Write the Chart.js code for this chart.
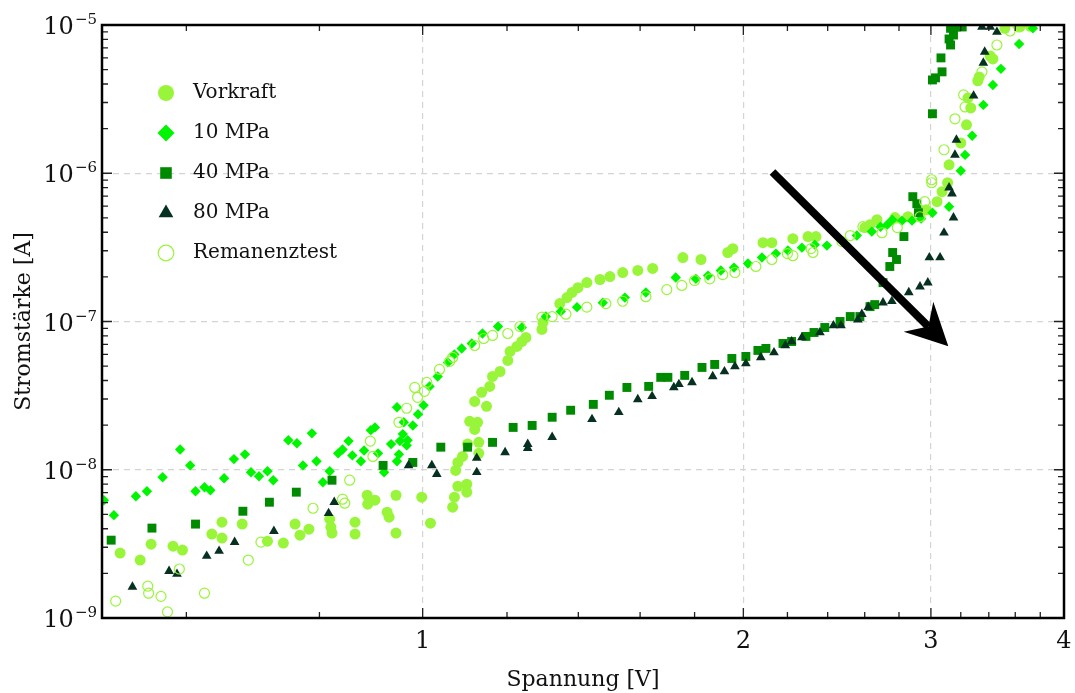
<!DOCTYPE html>
<html>
<head>
<meta charset="utf-8">
<script src="https://cdn.jsdelivr.net/npm/chart.js@4.4.1/dist/chart.umd.min.js"></script>
<style>
html, body { margin: 0; padding: 0; background: #fff; }
#wrap { width: 1075px; height: 693px; }
</style>
</head>
<body>
<div id="wrap"><canvas id="myChart" width="1075" height="693"></canvas></div>
<script>
// measured values: voltage [V] and current [A] per series
const vorkraftU = [0.520,0.543,0.556,0.583,0.595,0.634,0.648,0.648,0.677,0.715,
  0.740,0.759,0.767,0.782,0.818,0.820,0.822,0.864,0.864,0.887,
  0.888,0.902,0.926,0.930,0.944,0.944,0.998,1.017,1.067,1.071,
  1.079,1.100,1.100,1.074,1.079,1.090,1.102,1.129,1.129,1.119,
  1.107,1.126,1.148,1.119,1.136,1.156,1.163,1.182,1.202,1.208,
  1.226,1.239,1.250,1.294,1.297,1.345,1.366,1.381,1.399,1.426,
  1.467,1.499,1.541,1.592,1.644,1.755,1.825,1.934,1.955,2.087,
  2.127,2.226,2.30,2.34,2.601,2.63,2.67,2.776,2.855,2.93,
  2.97,3.04,3.073,3.11,3.12,3.20,3.24,3.27,3.25,3.32,
  3.33,3.41,3.43,3.52,3.64,3.72]
const vorkraftI = [2.74e-9,2.46e-9,3.15e-9,3.05e-9,2.87e-9,3.68e-9,4.43e-9,3.46e-9,4.30e-9,3.30e-9,
  3.20e-9,4.30e-9,3.62e-9,3.97e-9,4.64e-9,4.10e-9,3.74e-9,4.43e-9,3.68e-9,6.73e-9,
  5.86e-9,6.23e-9,5.17e-9,4.79e-9,6.73e-9,3.74e-9,6.53e-9,4.36e-9,5.59e-9,6.53e-9,
  7.74e-9,7.06e-9,7.99e-9,9.9e-9,1.12e-8,1.23e-8,1.49e-8,1.53e-8,1.29e-8,1.87e-8,
  2.12e-8,2.09e-8,2.68e-8,2.89e-8,3.33e-8,3.65e-8,4.26e-8,4.60e-8,5.46e-8,6.28e-8,
  6.79e-8,7.33e-8,7.80e-8,8.84e-8,9.85e-8,1.32e-7,1.45e-7,1.57e-7,1.69e-7,1.83e-7,
  1.92e-7,2.01e-7,2.14e-7,2.21e-7,2.28e-7,2.70e-7,2.62e-7,2.92e-7,3.10e-7,3.40e-7,
  3.40e-7,3.62e-7,3.74e-7,3.74e-7,4.30e-7,4.50e-7,4.86e-7,5.02e-7,5.09e-7,5.50e-7,
  5.67e-7,6.43e-7,7.51e-7,8.63e-7,1.14e-6,1.60e-6,2.12e-6,2.76e-6,3.22e-6,4.20e-6,
  4.46e-6,6.18e-6,5.90e-6,9.5e-6,9.8e-6,9.8e-6]

const mpa10U = [0.502,0.513,0.538,0.551,0.570,0.592,0.605,0.612,0.624,0.632,
  0.651,0.665,0.681,0.690,0.702,0.715,0.724,0.748,0.762,0.772,
  0.787,0.795,0.806,0.818,0.833,0.841,0.852,0.859,0.875,0.881,
  0.894,0.902,0.908,0.920,0.934,0.946,0.946,0.950,0.952,0.958,
  0.960,0.966,0.968,0.979,0.990,1.002,1.015,1.033,1.056,1.071,
  1.088,1.112,1.138,1.177,1.239,1.305,1.348,1.396,1.476,1.548,
  1.620,1.728,1.805,1.853,1.905,1.960,2.020,2.082,2.146,2.202,
  2.270,2.334,2.396,2.556,2.64,2.69,2.73,2.76,2.818,2.88,
  2.937,3.01,3.12,3.20,3.23,3.28,3.36,3.43,3.49,3.63,3.74]
const mpa10I = [6.23e-9,4.94e-9,6.63e-9,7.16e-9,8.90e-9,1.37e-8,1.07e-8,7.16e-9,7.62e-9,7.28e-9,
  8.76e-9,1.18e-8,1.27e-8,9.62e-9,9.04e-9,9.77e-9,8.50e-9,1.58e-8,1.51e-8,1.07e-8,
  1.76e-8,1.14e-8,8.24e-9,9.77e-9,1.29e-8,1.37e-8,1.56e-8,1.25e-8,1.14e-8,1.35e-8,
  1.85e-8,1.93e-8,1.29e-8,9.62e-9,1.49e-8,2.64e-8,1.14e-8,1.27e-8,1.56e-8,1.74e-8,
  2.09e-8,1.46e-8,1.58e-8,1.99e-8,2.37e-8,2.72e-8,3.65e-8,4.26e-8,5.30e-8,6.00e-8,
  6.58e-8,7.11e-8,8.30e-8,9.25e-8,9.11e-8,1.08e-7,1.17e-7,1.25e-7,1.34e-7,1.45e-7,
  1.57e-7,1.98e-7,1.94e-7,2.04e-7,2.21e-7,2.31e-7,2.46e-7,2.70e-7,2.87e-7,3.01e-7,
  3.15e-7,3.30e-7,3.25e-7,3.80e-7,4.04e-7,4.36e-7,4.50e-7,4.86e-7,4.79e-7,4.79e-7,
  4.94e-7,5.42e-7,5.95e-7,1.04e-6,1.33e-6,1.79e-6,2.89e-6,3.94e-6,5.06e-6,7.45e-6,9.5e-6]

const mpa40U = [0.510,0.557,0.612,0.678,0.718,0.761,0.822,0.918,0.979,1.040,
  1.102,1.163,1.216,1.267,1.323,1.377,1.446,1.497,1.555,1.630,
  1.673,1.699,1.762,1.829,1.880,1.951,2.011,2.064,2.10,2.179,
  2.22,2.29,2.33,2.385,2.465,2.52,2.573,2.63,2.657,2.705,
  2.745,2.762,2.785,2.83,2.885,2.91,2.92,3.01,3.01,3.03,
  3.073,3.066,3.12,3.13,3.15,3.13,3.17,3.21]
const mpa40I = [3.35e-9,4.04e-9,4.30e-9,5.25e-9,6.04e-9,7.06e-9,8.50e-9,1.07e-8,1.12e-8,1.42e-8,
  1.42e-8,1.53e-8,1.93e-8,1.99e-8,2.26e-8,2.52e-8,2.76e-8,3.18e-8,3.59e-8,3.65e-8,
  4.20e-8,4.20e-8,4.33e-8,4.90e-8,5.13e-8,5.63e-8,5.81e-8,6.38e-8,6.58e-8,7.11e-8,
  7.33e-8,7.93e-8,8.43e-8,9.11e-8,1.00e-7,1.08e-7,1.08e-7,1.26e-7,1.30e-7,1.83e-7,
  2.35e-7,2.92e-7,2.62e-7,3.74e-7,6.95e-7,6.23e-7,5.42e-7,2.52e-6,4.26e-6,4.40e-6,
  4.83e-6,6.00e-6,8.05e-6,7.33e-6,8.56e-6,9.5e-6,9.7e-6,9.7e-6]

const mpa80U = [0.534,0.578,0.588,0.627,0.644,0.666,0.725,0.816,0.826,0.970,
  1.020,1.031,1.124,1.124,1.195,1.255,1.255,1.323,1.442,1.528,
  1.592,1.642,1.721,1.740,1.79,1.872,1.92,1.964,2.011,2.077,
  2.137,2.19,2.22,2.27,2.36,2.43,2.47,2.562,2.584,2.62,
  2.705,2.757,2.86,2.93,2.98,2.99,3.06,3.086,3.15,3.14,
  3.12,3.16,3.17,3.29,3.36,3.37,3.46,3.35,3.41]
const mpa80I = [1.62e-9,2.07e-9,1.98e-9,2.62e-9,2.83e-9,3.25e-9,3.85e-9,5.09e-9,6.04e-9,1.07e-8,
  1.07e-8,9.33e-9,1.20e-8,9.62e-9,1.31e-8,1.49e-8,1.40e-8,1.66e-8,2.19e-8,2.44e-8,
  2.98e-8,3.13e-8,3.59e-8,3.77e-8,3.88e-8,4.26e-8,4.60e-8,4.98e-8,5.21e-8,5.72e-8,
  6.18e-8,6.89e-8,7.33e-8,7.80e-8,8.43e-8,9.40e-8,9.40e-8,1.03e-7,1.12e-7,1.25e-7,
  1.34e-7,1.37e-7,1.57e-7,1.72e-7,1.83e-7,2.70e-7,2.70e-7,3.97e-7,5.02e-7,7.28e-7,
  7.99e-7,1.33e-6,1.68e-6,3.33e-6,5.55e-6,6.58e-6,8.97e-6,9.7e-6,9.7e-6]

const remanenzU = [0.515,0.552,0.553,0.568,0.576,0.591,0.624,0.686,0.705,0.789,
  0.841,0.845,0.854,0.893,0.898,0.950,0.966,0.983,0.989,1.004,
  1.009,1.037,1.060,1.067,1.119,1.141,1.163,1.202,1.234,1.294,
  1.323,1.363,1.426,1.486,1.541,1.620,1.695,1.751,1.80,1.86,
  1.913,1.964,2.055,2.127,2.20,2.226,2.315,2.325,2.475,2.52,
  2.59,2.699,2.79,2.93,2.96,3.005,3.005,3.086,3.16,3.23,
  3.22,3.35,3.46,3.56,3.63]
const remanenzI = [1.30e-9,1.64e-9,1.47e-9,1.40e-9,1.10e-9,2.14e-9,1.47e-9,2.46e-9,3.25e-9,5.50e-9,
  6.33e-9,5.95e-9,8.50e-9,1.56e-8,1.23e-8,2.09e-8,2.60e-8,3.59e-8,3.08e-8,3.38e-8,
  3.88e-8,4.75e-8,5.38e-8,5.72e-8,6.89e-8,7.68e-8,8.05e-8,8.30e-8,9.25e-8,1.07e-7,
  1.08e-7,1.12e-7,1.25e-7,1.32e-7,1.37e-7,1.47e-7,1.64e-7,1.75e-7,1.89e-7,1.94e-7,
  2.07e-7,2.14e-7,2.35e-7,2.62e-7,2.87e-7,2.78e-7,3.10e-7,2.92e-7,3.46e-7,3.80e-7,
  4.36e-7,3.97e-7,4.30e-7,5.09e-7,6.43e-7,8.63e-7,9.04e-7,1.44e-6,2.33e-6,2.80e-6,
  3.38e-6,4.83e-6,7.33e-6,9.11e-6,9.7e-6]

const seriesNames = ['Vorkraft', '10 MPa', '40 MPa', '80 MPa', 'Remanenztest']
const xTickLabels = [1, 2, 3, 4]
const xMinorTicks = [0.6, 0.8, 1.2, 1.4, 1.6, 1.8, 2.2, 2.4, 2.6, 2.8, 3.2, 3.4, 3.6, 3.8]
const yDecades = [-9, -8, -7, -6, -5]
const yMinorMantissas = [2, 3, 4, 5, 6, 7, 8, 9]
const arrowFrom = [2.13, 1.02e-6] //arrow start (V, A)
const arrowTo = [3.115, 6.8e-8]   //arrow tip (V, A)

const FONT = "'DejaVu Serif', serif"
const GREEN_LIGHT = '#99f53a'

function pts(us, is) { //pair voltage and current arrays
    return us.map((u, i) => ({ x: u, y: is[i] }))
}

function makeSet(i, us, is, style, color, radius, legendRadius, hollow) {
    return {
        label: seriesNames[i],
        data: pts(us, is),
        pointStyle: style,
        pointRadius: radius,
        backgroundColor: hollow ? 'rgba(0,0,0,0)' : color,
        borderColor: color,
        borderWidth: hollow ? 1.2 : 0,
        showLine: false,
        clip: 0,
        order: 5 - i,
        legendRadius: legendRadius
    }
}

const datasets = [
    makeSet(0, vorkraftU, vorkraftI, 'circle', GREEN_LIGHT, 5.5, 8, false),
    makeSet(1, mpa10U, mpa10I, 'rectRot', '#00f500', 5.2, 8.5, false),
    makeSet(2, mpa40U, mpa40I, 'rect', '#008a00', 6.3, 8.2, false),
    makeSet(3, mpa80U, mpa80I, 'triangle', '#06301f', 5.6, 8.5, false),
    makeSet(4, remanenzU, remanenzI, 'circle', GREEN_LIGHT, 5, 7.8, true)
]

//frame, inward ticks, y labels, arrow and legend
const decorations = {
    id: 'decorations',
    afterDatasetsDraw(chart) {
        const ctx = chart.ctx
        const a = chart.chartArea
        const xs = chart.scales.x, ys = chart.scales.y
        ctx.save()
        ctx.strokeStyle = '#222'
        ctx.lineWidth = 1.3
        ctx.beginPath()
        const xMajor = xTickLabels, xAll = xMajor.concat(xMinorTicks)
        xAll.forEach(v => {
            const p = xs.getPixelForValue(v)
            const len = xMajor.includes(v) ? 10 : 6
            ctx.moveTo(p, a.bottom); ctx.lineTo(p, a.bottom - len)
            ctx.moveTo(p, a.top); ctx.lineTo(p, a.top + len)
        })
        yDecades.forEach(e => {
            const marks = [[1, 10]].concat(yMinorMantissas.map(m => [m, 6]))
            marks.forEach(([m, len]) => {
                const v = m * Math.pow(10, e)
                if (v > 1.0001e-5) return
                const p = ys.getPixelForValue(v)
                ctx.moveTo(a.left, p); ctx.lineTo(a.left + len, p)
                ctx.moveTo(a.right, p); ctx.lineTo(a.right - len, p)
            })
        })
        ctx.stroke()
        ctx.strokeStyle = '#000'
        ctx.lineWidth = 2.5
        ctx.strokeRect(a.left, a.top, a.right - a.left, a.bottom - a.top)
        ctx.restore()
    },
    afterDraw(chart) {
        const ctx = chart.ctx
        const xs = chart.scales.x, ys = chart.scales.y
        ctx.save()
        //y tick labels as 10 with a raised exponent
        ctx.fillStyle = '#111'
        ctx.textAlign = 'right'
        ctx.textBaseline = 'alphabetic'
        yDecades.forEach(e => {
            const p = ys.getPixelForValue(Math.pow(10, e))
            const ex = '\u2212' + Math.abs(e)
            ctx.font = '15px ' + FONT
            const w = ctx.measureText(ex).width
            ctx.fillText(ex, 97, p - 1)
            ctx.font = '24px ' + FONT
            ctx.fillText('10', 97 - w - 1, p + 9)
        })

        //arrow
        const x0 = xs.getPixelForValue(arrowFrom[0]), y0 = ys.getPixelForValue(arrowFrom[1])
        const x1 = xs.getPixelForValue(arrowTo[0]), y1 = ys.getPixelForValue(arrowTo[1])
        const d = Math.hypot(x1 - x0, y1 - y0)
        const ux = (x1 - x0) / d, uy = (y1 - y0) / d
        const nx = -uy, ny = ux
        const headLen = 42, headW = 21, notch = 28
        ctx.strokeStyle = '#000'
        ctx.fillStyle = '#000'
        ctx.lineWidth = 8
        ctx.beginPath()
        ctx.moveTo(x0, y0)
        ctx.lineTo(x1 - ux * notch, y1 - uy * notch)
        ctx.stroke()
        ctx.beginPath()
        ctx.moveTo(x1, y1)
        ctx.lineTo(x1 - ux * headLen + nx * headW, y1 - uy * headLen + ny * headW)
        ctx.lineTo(x1 - ux * notch, y1 - uy * notch)
        ctx.lineTo(x1 - ux * headLen - nx * headW, y1 - uy * headLen - ny * headW)
        ctx.closePath()
        ctx.fill()

        //legend
        const lx = 166, ly = 93, dy = 40
        chart.data.datasets.forEach((ds, i) => {
            const y = ly + i * dy
            ctx.fillStyle = ds.backgroundColor
            ctx.strokeStyle = ds.borderColor
            ctx.lineWidth = ds.borderWidth
            Chart.helpers.drawPoint(ctx, {
                pointStyle: ds.pointStyle, rotation: 0,
                radius: ds.legendRadius, borderWidth: ds.borderWidth
            }, lx, y)
            ctx.fillStyle = '#111'
            ctx.font = '20px ' + FONT
            ctx.textAlign = 'left'
            ctx.textBaseline = 'middle'
            ctx.fillText(ds.label, 193, y)
        })
        ctx.restore()
    }
}

const gridColor = '#d4d4d4'
var ctx = document.getElementById('myChart')
var myChart = new Chart(ctx, {
    type: 'scatter',
    data: { datasets: datasets },
    options: {
        responsive: false,
        animation: false,
        devicePixelRatio: 1,
        events: [],
        layout: { padding: { top: 25, right: 11, left: 0, bottom: 0 } },
        plugins: { legend: { display: false }, tooltip: { enabled: false } },
        scales: {
            x: {
                type: 'logarithmic',
                min: 0.5, max: 4,
                bounds: 'data',
                afterBuildTicks: s => { s.ticks = xTickLabels.concat(xMinorTicks).sort((p, q) => p - q).map(v => ({ value: v })) },
                afterFit: s => { s.height = 75; s.paddingLeft = 0; s.paddingRight = 0 },
                grid: {
                    drawTicks: false,
                    lineWidth: 1.2,
                    color: c => (c.tick && [1, 2, 3].includes(c.tick.value)) ? gridColor : 'rgba(0,0,0,0)'
                },
                border: { display: false, dash: [6, 5] },
                ticks: {
                    autoSkip: false, maxRotation: 0, padding: 9,
                    color: '#111',
                    font: { family: FONT, size: 24 },
                    callback: v => xTickLabels.includes(v) ? String(v) : ''
                },
                title: {
                    display: true, text: 'Spannung [V]', color: '#111',
                    font: { family: FONT, size: 22 },
                    padding: { top: 0, bottom: 0 }
                }
            },
            y: {
                type: 'logarithmic',
                min: 1e-9, max: 1e-5,
                bounds: 'data',
                afterBuildTicks: s => { s.ticks = yDecades.map(e => ({ value: Math.pow(10, e) })) },
                afterFit: s => { s.width = 102 },
                grid: {
                    drawTicks: false,
                    lineWidth: 1.2,
                    color: c => (c.tick && c.tick.value > 2e-9 && c.tick.value < 5e-6) ? gridColor : 'rgba(0,0,0,0)'
                },
                border: { display: false, dash: [6, 5] },
                ticks: { display: false },
                title: {
                    display: true, text: 'Stromstärke [A]', color: '#111',
                    font: { family: FONT, size: 22 },
                    padding: { top: 11, bottom: 0 }
                }
            }
        }
    },
    plugins: [decorations]
})
</script>
</body>
</html>
